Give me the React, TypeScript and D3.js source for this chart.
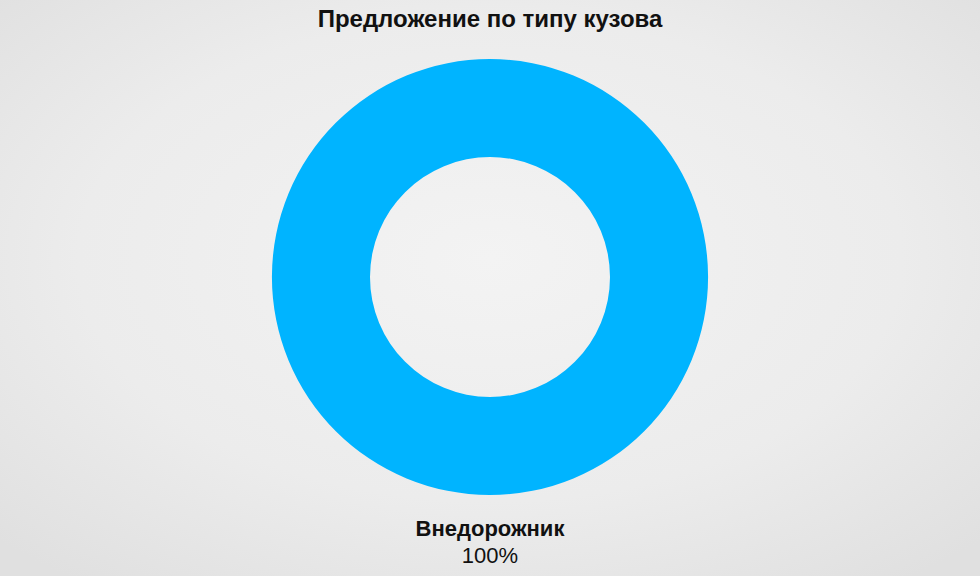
import { useEffect, useRef } from "react";
import * as d3 from "d3";

const W = 980;
const H = 576;

const title = "Предложение по типу кузова";
const categories = ["Внедорожник"];
const shares = [100];
const colors = ["#00b4ff"];

function App() {
  const svgRef = useRef<SVGSVGElement>(null);

  useEffect(() => {
    const svg = d3.select(svgRef.current);
    svg.selectAll("*").remove();

    // light stone-like backdrop
    const defs = svg.append("defs");
    const grad = defs
      .append("radialGradient")
      .attr("id", "bg")
      .attr("cx", "50%")
      .attr("cy", "45%")
      .attr("r", "70%");
    grad.append("stop").attr("offset", "0%").attr("stop-color", "#f3f3f3");
    grad.append("stop").attr("offset", "60%").attr("stop-color", "#ececec");
    grad.append("stop").attr("offset", "100%").attr("stop-color", "#e0e0e0");

    svg.append("rect").attr("width", W).attr("height", H).attr("fill", "url(#bg)");

    svg
      .append("text")
      .attr("x", W / 2)
      .attr("y", 27)
      .attr("text-anchor", "middle")
      .attr("font-family", "Liberation Sans, Arial, sans-serif")
      .attr("font-weight", "bold")
      .attr("font-size", 24)
      .attr("fill", "#111")
      .text(title);

    const cx = 490,
      cy = 277,
      outer = 218,
      inner = 120;

    const pie = d3.pie<number>().sort(null)(shares);
    const arc = d3.arc<d3.PieArcDatum<number>>().innerRadius(inner).outerRadius(outer);

    const g = svg.append("g").attr("transform", `translate(${cx},${cy})`);
    g.selectAll("path")
      .data(pie)
      .enter()
      .append("path")
      .attr("d", arc)
      .attr("fill", (d, i) => colors[i]);

    const lab = svg
      .append("g")
      .attr("font-family", "Liberation Sans, Arial, sans-serif")
      .attr("font-size", 22)
      .attr("fill", "#111")
      .attr("text-anchor", "middle");

    categories.forEach((c, i) => {
      lab
        .append("text")
        .attr("x", cx)
        .attr("y", 536)
        .attr("font-weight", "bold")
        .text(c);
      lab
        .append("text")
        .attr("x", cx)
        .attr("y", 563)
        .text(shares[i] + "%");
    });
  }, []);

  return (
    <div style={{ position: "absolute", left: 0, top: 0 }}>
      <svg ref={svgRef} width={W} height={H} style={{ display: "block" }}></svg>
    </div>
  );
}

export default App;
